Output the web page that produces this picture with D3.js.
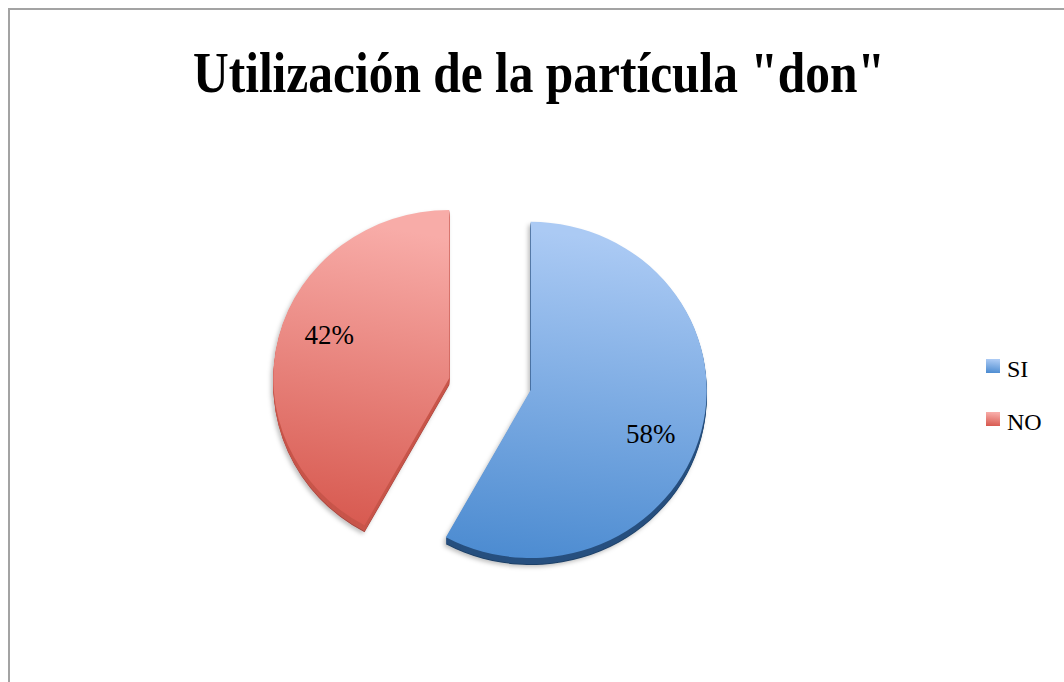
<!DOCTYPE html>
<html>
<head>
<meta charset="utf-8">
<script src="https://cdn.jsdelivr.net/npm/d3@7"></script>
<style>
  html, body { margin: 0; padding: 0; background: #fff; }
  svg { display: block; }
</style>
</head>
<body>
<div id="chart"></div>
<script>
const title = 'Utilización de la partícula "don"';
const categories = ['SI', 'NO'];
const values = [58, 42];
const labels = ['58%', '42%'];

const width = 1064;
const height = 682;

// colours per slice: top of gradient, bottom of gradient, side/depth
const topColors = ['#abcaf4', '#f8aca8'];
const bottomColors = ['#4a8ad0', '#d6564c'];
const sideColors = ['#27507f', '#c8554b'];

function drawChart() {
  const svg = d3.select('#chart')
    .append('svg')
    .attr('width', width)
    .attr('height', height);

  const defs = svg.append('defs');

  // soft shadow behind the slices
  const shadow = defs.append('filter')
    .attr('id', 'shadow')
    .attr('x', '-20%').attr('y', '-20%')
    .attr('width', '140%').attr('height', '140%');
  shadow.append('feDropShadow')
    .attr('dx', -2).attr('dy', 2)
    .attr('stdDeviation', 2)
    .attr('flood-color', '#000')
    .attr('flood-opacity', 0.25);

  categories.forEach((c, i) => {
    const g = defs.append('linearGradient')
      .attr('id', 'grad' + i)
      .attr('x1', 0.1).attr('y1', 0)
      .attr('x2', 0).attr('y2', 1);
    g.append('stop').attr('offset', '0%').attr('stop-color', topColors[i]);
    g.append('stop').attr('offset', '100%').attr('stop-color', bottomColors[i]);
  });

  // frame (only top and left edges show inside the window)
  svg.append('rect')
    .attr('x', 9).attr('y', 9)
    .attr('width', width + 20).attr('height', height + 20)
    .attr('fill', 'none')
    .attr('stroke', '#a3a3a3')
    .attr('stroke-width', 2);

  // title
  svg.append('text')
    .attr('x', 539)
    .attr('y', 92)
    .attr('text-anchor', 'middle')
    .attr('textLength', 692)
    .attr('lengthAdjust', 'spacingAndGlyphs')
    .style('font-family', '"Liberation Serif", "DejaVu Serif", serif')
    .style('font-weight', 'bold')
    .style('font-size', '58px')
    .text(title);

  // pie
  const cx = 490;
  const cy = 384;
  const radius = 176;
  const squash = 0.955;
  const explode = 42;
  const explodeY = 0.57;
  const depth = 7;

  const pie = d3.pie().sort(null).value((d) => d);
  const arcs = pie(values);
  const arc = d3.arc().innerRadius(0).outerRadius(radius);

  const pieG = svg.append('g').attr('class', 'pie');

  const slices = pieG.selectAll('g.slice')
    .data(arcs)
    .join('g')
    .attr('class', 'slice')
    .attr('transform', (d) => {
      const mid = (d.startAngle + d.endAngle) / 2;
      const x = cx + Math.sin(mid) * explode;
      const y = cy - Math.cos(mid) * explode * explodeY;
      return `translate(${x},${y})`;
    });

  // extrusion (side of the 3D slice)
  slices.each(function (d, i) {
    const g = d3.select(this).append('g').attr('filter', 'url(#shadow)');
    for (let k = depth; k >= 1; k--) {
      g.append('path')
        .attr('d', arc(d))
        .attr('transform', `translate(0,${k}) scale(1,${squash})`)
        .attr('fill', k === depth ? d3.color(sideColors[i]).darker(0.6) : sideColors[i]);
    }
  });

  // top face
  slices.append('path')
    .attr('d', (d) => arc(d))
    .attr('transform', `scale(1,${squash})`)
    .attr('fill', (d, i) => `url(#grad${i})`);

  // percentage labels
  const labelRx = 124;
  const labelRy = 176;
  slices.append('text')
    .attr('x', (d) => Math.sin((d.startAngle + d.endAngle) / 2) * labelRx)
    .attr('y', (d) => -Math.cos((d.startAngle + d.endAngle) / 2) * labelRy)
    .attr('dy', '0.35em')
    .attr('text-anchor', 'middle')
    .style('font-family', '"Liberation Serif", "DejaVu Serif", serif')
    .style('font-size', '27px')
    .attr('fill', '#000')
    .text((d, i) => labels[i]);

  // legend
  const legend = svg.append('g')
    .attr('class', 'legend')
    .attr('transform', 'translate(986,359)');

  const items = legend.selectAll('g')
    .data(categories)
    .join('g')
    .attr('transform', (d, i) => `translate(0,${i * 53})`);

  items.append('rect')
    .attr('width', 14)
    .attr('height', 14)
    .attr('fill', (d, i) => `url(#grad${i})`);

  items.append('text')
    .attr('x', 21)
    .attr('y', 18)
    .style('font-family', '"Liberation Serif", "DejaVu Serif", serif')
    .style('font-size', '24px')
    .attr('fill', '#000')
    .text((d) => d);
}

drawChart();
</script>
</body>
</html>
